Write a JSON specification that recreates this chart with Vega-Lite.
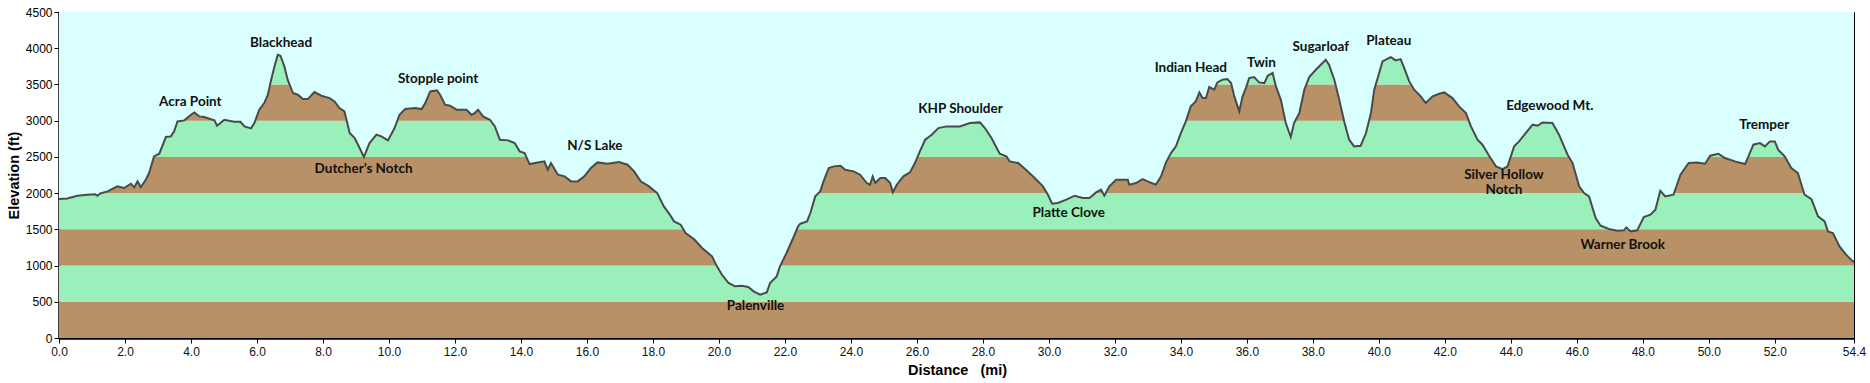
{
  "$schema": "https://vega.github.io/schema/vega-lite/v6.json",
  "width": 1795,
  "height": 326,
  "autosize": "none",
  "padding": {"left": 59, "top": 12, "right": 16, "bottom": 45},
  "background": "white",
  "config": {
    "view": {"stroke": "#000", "strokeWidth": 1, "fill": "#DAFFFF"}
  },
  "datasets": {
    "bands": [
      {"lo": 0, "hi": 500, "c": "#B89266"},
      {"lo": 500, "hi": 1000, "c": "#99F0BB"},
      {"lo": 1000, "hi": 1500, "c": "#B89266"},
      {"lo": 1500, "hi": 2000, "c": "#99F0BB"},
      {"lo": 2000, "hi": 2500, "c": "#B89266"},
      {"lo": 2500, "hi": 3000, "c": "#99F0BB"},
      {"lo": 3000, "hi": 3500, "c": "#B89266"},
      {"lo": 3500, "hi": 4000, "c": "#99F0BB"},
      {"lo": 4000, "hi": 4500, "c": "#B89266"}
    ],
    "profile": [
      {"mi":0,"ft":1918},{"mi":0.25,"ft":1927},{"mi":0.56,"ft":1964},{"mi":0.86,"ft":1978},{"mi":1.1,"ft":1985},{"mi":1.16,"ft":1964},{"mi":1.25,"ft":1995},{"mi":1.47,"ft":2024},{"mi":1.77,"ft":2093},{"mi":1.97,"ft":2070},{"mi":2.18,"ft":2130},{"mi":2.28,"ft":2079},{"mi":2.38,"ft":2162},{"mi":2.48,"ft":2084},{"mi":2.63,"ft":2185},{"mi":2.73,"ft":2277},{"mi":2.88,"ft":2507},{"mi":3.04,"ft":2544},{"mi":3.24,"ft":2774},{"mi":3.39,"ft":2783},{"mi":3.49,"ft":2852},{"mi":3.59,"ft":2990},{"mi":3.8,"ft":3004},{"mi":4.0,"ft":3082},{"mi":4.1,"ft":3114},{"mi":4.25,"ft":3059},{"mi":4.4,"ft":3050},{"mi":4.71,"ft":3004},{"mi":4.79,"ft":2930},{"mi":5.01,"ft":3013},{"mi":5.31,"ft":2985},{"mi":5.5,"ft":2985},{"mi":5.62,"ft":2921},{"mi":5.82,"ft":2893},{"mi":5.92,"ft":2967},{"mi":6.07,"ft":3151},{"mi":6.22,"ft":3243},{"mi":6.33,"ft":3358},{"mi":6.43,"ft":3565},{"mi":6.53,"ft":3749},{"mi":6.63,"ft":3910},{"mi":6.71,"ft":3896},{"mi":6.83,"ft":3749},{"mi":6.93,"ft":3565},{"mi":7.09,"ft":3381},{"mi":7.24,"ft":3358},{"mi":7.39,"ft":3298},{"mi":7.54,"ft":3298},{"mi":7.74,"ft":3395},{"mi":7.95,"ft":3344},{"mi":8.2,"ft":3312},{"mi":8.35,"ft":3266},{"mi":8.5,"ft":3174},{"mi":8.65,"ft":3128},{"mi":8.81,"ft":2829},{"mi":8.96,"ft":2760},{"mi":9.11,"ft":2622},{"mi":9.24,"ft":2498},{"mi":9.41,"ft":2691},{"mi":9.62,"ft":2806},{"mi":9.77,"ft":2783},{"mi":9.97,"ft":2728},{"mi":10.17,"ft":2898},{"mi":10.32,"ft":3082},
      {"mi":10.49,"ft":3160},{"mi":10.79,"ft":3174},{"mi":10.99,"ft":3160},{"mi":11.1,"ft":3243},{"mi":11.25,"ft":3404},{"mi":11.45,"ft":3418},{"mi":11.55,"ft":3358},{"mi":11.7,"ft":3220},{"mi":11.85,"ft":3206},{"mi":12.05,"ft":3151},{"mi":12.35,"ft":3151},{"mi":12.5,"ft":3082},{"mi":12.6,"ft":3105},{"mi":12.7,"ft":3151},{"mi":12.85,"ft":3059},{"mi":13.06,"ft":3013},{"mi":13.21,"ft":2921},{"mi":13.36,"ft":2737},{"mi":13.61,"ft":2728},{"mi":13.81,"ft":2691},{"mi":13.96,"ft":2576},{"mi":14.11,"ft":2553},{"mi":14.26,"ft":2401},{"mi":14.51,"ft":2424},{"mi":14.71,"ft":2438},{"mi":14.81,"ft":2323},{"mi":14.91,"ft":2415},{"mi":15.12,"ft":2254},{"mi":15.32,"ft":2231},{"mi":15.52,"ft":2162},{"mi":15.72,"ft":2162},{"mi":15.92,"ft":2231},{"mi":16.12,"ft":2346},{"mi":16.32,"ft":2424},{"mi":16.62,"ft":2406},{"mi":16.97,"ft":2429},{"mi":17.23,"ft":2392},{"mi":17.43,"ft":2300},{"mi":17.63,"ft":2162},{"mi":17.88,"ft":2093},{"mi":18.13,"ft":2001},{"mi":18.33,"ft":1817},{"mi":18.48,"ft":1725},{"mi":18.64,"ft":1610},{"mi":18.84,"ft":1564},{"mi":18.99,"ft":1449},{"mi":19.24,"ft":1366},{"mi":19.49,"ft":1242},{"mi":19.79,"ft":1127},{"mi":19.94,"ft":989},{"mi":20.09,"ft":874},{"mi":20.29,"ft":759},{"mi":20.49,"ft":713},{"mi":20.69,"ft":722},{"mi":20.89,"ft":704},{"mi":21.05,"ft":644},{"mi":21.25,"ft":598},{"mi":21.45,"ft":630},{"mi":21.55,"ft":759},{"mi":21.75,"ft":851},{"mi":21.85,"ft":989},{"mi":22.05,"ft":1173},{"mi":22.25,"ft":1380},{"mi":22.4,"ft":1541},
      {"mi":22.47,"ft":1578},{"mi":22.67,"ft":1610},{"mi":22.77,"ft":1725},{"mi":22.92,"ft":1955},{"mi":23.07,"ft":2024},{"mi":23.17,"ft":2162},{"mi":23.33,"ft":2346},{"mi":23.48,"ft":2369},{"mi":23.68,"ft":2378},{"mi":23.83,"ft":2323},{"mi":24.08,"ft":2300},{"mi":24.28,"ft":2254},{"mi":24.48,"ft":2139},{"mi":24.58,"ft":2116},{"mi":24.66,"ft":2231},{"mi":24.74,"ft":2139},{"mi":24.89,"ft":2208},{"mi":25.04,"ft":2208},{"mi":25.19,"ft":2139},{"mi":25.27,"ft":2010},{"mi":25.39,"ft":2116},{"mi":25.59,"ft":2231},{"mi":25.79,"ft":2286},{"mi":25.94,"ft":2415},{"mi":26.09,"ft":2576},{"mi":26.25,"ft":2737},{"mi":26.45,"ft":2806},{"mi":26.65,"ft":2898},{"mi":26.9,"ft":2921},{"mi":27.3,"ft":2921},{"mi":27.61,"ft":2967},{"mi":27.91,"ft":2976},{"mi":28.06,"ft":2898},{"mi":28.26,"ft":2760},{"mi":28.51,"ft":2544},{"mi":28.71,"ft":2507},{"mi":28.81,"ft":2438},{"mi":29.07,"ft":2415},{"mi":29.32,"ft":2314},{"mi":29.57,"ft":2208},{"mi":29.82,"ft":2093},{"mi":29.97,"ft":1978},{"mi":30.1,"ft":1854},{"mi":30.27,"ft":1863},{"mi":30.53,"ft":1909},{"mi":30.78,"ft":1964},{"mi":31.03,"ft":1932},{"mi":31.23,"ft":1932},{"mi":31.43,"ft":2010},{"mi":31.58,"ft":2047},{"mi":31.68,"ft":1964},{"mi":31.83,"ft":2093},{"mi":32.04,"ft":2185},{"mi":32.39,"ft":2185},{"mi":32.44,"ft":2116},{"mi":32.64,"ft":2139},{"mi":32.84,"ft":2194},{"mi":32.99,"ft":2162},{"mi":33.24,"ft":2116},{"mi":33.4,"ft":2231},{"mi":33.55,"ft":2424},{"mi":33.7,"ft":2553},{"mi":33.85,"ft":2645},{"mi":34.0,"ft":2829},{"mi":34.15,"ft":2990},{"mi":34.3,"ft":3197},{"mi":34.45,"ft":3266},{"mi":34.56,"ft":3390},
      {"mi":34.66,"ft":3312},{"mi":34.76,"ft":3312},{"mi":34.86,"ft":3464},{"mi":35.01,"ft":3427},{"mi":35.11,"ft":3528},{"mi":35.26,"ft":3565},{"mi":35.41,"ft":3574},{"mi":35.52,"ft":3519},{"mi":35.62,"ft":3335},{"mi":35.77,"ft":3128},{"mi":35.87,"ft":3335},{"mi":35.97,"ft":3450},{"mi":36.07,"ft":3588},{"mi":36.22,"ft":3602},{"mi":36.37,"ft":3528},{"mi":36.53,"ft":3519},{"mi":36.63,"ft":3620},{"mi":36.78,"ft":3657},{"mi":36.88,"ft":3473},{"mi":37.03,"ft":3289},{"mi":37.18,"ft":2967},{"mi":37.33,"ft":2774},{"mi":37.43,"ft":2967},{"mi":37.59,"ft":3105},{"mi":37.74,"ft":3427},{"mi":37.89,"ft":3602},{"mi":38.09,"ft":3703},{"mi":38.24,"ft":3772},{"mi":38.39,"ft":3841},{"mi":38.49,"ft":3772},{"mi":38.65,"ft":3565},{"mi":38.8,"ft":3289},{"mi":38.95,"ft":2990},{"mi":39.1,"ft":2737},{"mi":39.25,"ft":2645},{"mi":39.45,"ft":2654},{"mi":39.61,"ft":2829},{"mi":39.76,"ft":3105},{"mi":39.86,"ft":3427},{"mi":40.01,"ft":3657},{"mi":40.11,"ft":3818},{"mi":40.36,"ft":3878},{"mi":40.51,"ft":3832},{"mi":40.66,"ft":3850},{"mi":40.77,"ft":3726},{"mi":40.92,"ft":3542},{"mi":41.07,"ft":3427},{"mi":41.27,"ft":3335},{"mi":41.42,"ft":3243},{"mi":41.63,"ft":3335},{"mi":41.83,"ft":3372},{"mi":41.98,"ft":3390},{"mi":42.23,"ft":3312},{"mi":42.43,"ft":3197},{"mi":42.64,"ft":3105},{"mi":42.79,"ft":2921},{"mi":42.99,"ft":2737},{"mi":43.14,"ft":2668},{"mi":43.34,"ft":2516},{"mi":43.55,"ft":2369},{"mi":43.75,"ft":2332},{"mi":43.9,"ft":2369},{"mi":44.1,"ft":2645},{"mi":44.25,"ft":2714},{"mi":44.45,"ft":2829},{"mi":44.66,"ft":2944},{"mi":44.81,"ft":2930},{"mi":44.96,"ft":2976},{"mi":45.26,"ft":2967},
      {"mi":45.46,"ft":2806},{"mi":45.72,"ft":2530},{"mi":45.87,"ft":2415},{"mi":46.07,"ft":2093},{"mi":46.22,"ft":2001},{"mi":46.37,"ft":1955},{"mi":46.57,"ft":1656},{"mi":46.72,"ft":1550},{"mi":46.97,"ft":1504},{"mi":47.23,"ft":1481},{"mi":47.43,"ft":1486},{"mi":47.5,"ft":1527},{"mi":47.63,"ft":1472},{"mi":47.83,"ft":1486},{"mi":48.03,"ft":1670},{"mi":48.23,"ft":1702},{"mi":48.38,"ft":1771},{"mi":48.53,"ft":2033},{"mi":48.68,"ft":1955},{"mi":48.93,"ft":1978},{"mi":49.14,"ft":2254},{"mi":49.39,"ft":2415},{"mi":49.64,"ft":2424},{"mi":49.89,"ft":2406},{"mi":50.04,"ft":2516},{"mi":50.29,"ft":2544},{"mi":50.49,"ft":2484},{"mi":50.79,"ft":2438},{"mi":51.1,"ft":2401},{"mi":51.2,"ft":2507},{"mi":51.35,"ft":2668},{"mi":51.55,"ft":2691},{"mi":51.7,"ft":2645},{"mi":51.85,"ft":2714},{"mi":52.0,"ft":2714},{"mi":52.1,"ft":2599},{"mi":52.3,"ft":2507},{"mi":52.5,"ft":2346},{"mi":52.7,"ft":2277},{"mi":52.9,"ft":1978},{"mi":53.11,"ft":1918},{"mi":53.31,"ft":1679},{"mi":53.51,"ft":1610},{"mi":53.61,"ft":1472},{"mi":53.76,"ft":1449},{"mi":53.96,"ft":1265},{"mi":54.16,"ft":1150},{"mi":54.36,"ft":1058},{"mi":54.4,"ft":1058}
    ],
    "labels": [
      {"mi": 3.98, "ft": 3257, "name": "Acra Point"},
      {"mi": 6.73, "ft": 4071, "name": "Blackhead"},
      {"mi": 9.23, "ft": 2332, "name": "Dutcher’s Notch"},
      {"mi": 11.49, "ft": 3579, "name": "Stopple point"},
      {"mi": 16.24, "ft": 2645, "name": "N/S Lake"},
      {"mi": 21.11, "ft": 437, "name": "Palenville"},
      {"mi": 27.32, "ft": 3160, "name": "KHP Shoulder"},
      {"mi": 30.6, "ft": 1725, "name": "Platte Clove"},
      {"mi": 34.3, "ft": 3721, "name": "Indian Head"},
      {"mi": 36.44, "ft": 3795, "name": "Twin"},
      {"mi": 38.24, "ft": 4011, "name": "Sugarloaf"},
      {"mi": 40.3, "ft": 4094, "name": "Plateau"},
      {"mi": 45.18, "ft": 3197, "name": "Edgewood Mt."},
      {"mi": 43.79, "ft": 2245, "name": "Silver Hollow"},
      {"mi": 43.79, "ft": 2038, "name": "Notch"},
      {"mi": 47.39, "ft": 1279, "name": "Warner Brook"},
      {"mi": 51.68, "ft": 2935, "name": "Tremper"}
    ]
  },
  "layer": [
    {
      "data": {"name": "bands"},
      "mark": {"type": "rect"},
      "encoding": {
        "x": {"datum": 0, "type": "quantitative", "scale": {"domain": [0, 54.4], "nice": false, "zero": false}, "title": "Distance\u00a0\u00a0\u00a0(mi)",
          "axis": {"values": [0, 2, 4, 6, 8, 10, 12, 14, 16, 18, 20, 22, 24, 26, 28, 30, 32, 34, 36, 38, 40, 42, 44, 46, 48, 50, 52, 54.4], "format": ".1f", "grid": false,
            "titleFont": "Liberation Sans", "titleFontSize": 14.5, "titleFontWeight": "bold", "titleColor": "#000",
            "titleX": 898, "titleY": 32, "titleAlign": "center", "titleBaseline": "middle",
            "labelFont": "Liberation Sans", "labelFontSize": 12, "labelColor": "#111", "labelPadding": 3,
            "labelFlush": false, "labelOverlap": false,
            "tickSize": 5, "tickColor": "#000", "tickWidth": 1,
            "domainColor": "#000", "domainWidth": 2.5}},
        "x2": {"datum": 54.4},
        "y": {"field": "lo", "type": "quantitative", "scale": {"domain": [0, 4500], "nice": false}, "title": "Elevation (ft)",
          "axis": {"values": [0, 500, 1000, 1500, 2000, 2500, 3000, 3500, 4000, 4500], "format": "d", "grid": false,
            "titleFont": "Liberation Sans", "titleFontSize": 14.5, "titleFontWeight": "bold", "titleColor": "#000",
            "titleX": -45, "titleY": 163, "titleAngle": -90, "titleAlign": "center", "titleBaseline": "middle",
            "labelFont": "Liberation Sans", "labelFontSize": 12, "labelColor": "#000", "labelPadding": 2,
            "tickSize": 5, "tickColor": "#000", "tickWidth": 1,
            "domainColor": "#000", "domainWidth": 2.5, "labelOverlap": false}},
        "y2": {"field": "hi"},
        "color": {"field": "c", "type": "nominal", "scale": null}
      }
    },
    {
      "data": {"name": "profile"},
      "mark": {"type": "area", "color": "#DAFFFF", "opacity": 1},
      "encoding": {
        "x": {"field": "mi", "type": "quantitative", "title": "Distance\u00a0\u00a0\u00a0(mi)",
          "axis": {"values": [0, 2, 4, 6, 8, 10, 12, 14, 16, 18, 20, 22, 24, 26, 28, 30, 32, 34, 36, 38, 40, 42, 44, 46, 48, 50, 52, 54.4], "format": ".1f", "grid": false,
            "titleFont": "Liberation Sans", "titleFontSize": 14.5, "titleFontWeight": "bold", "titleColor": "#000",
            "titleX": 898, "titleY": 32, "titleAlign": "center", "titleBaseline": "middle",
            "labelFont": "Liberation Sans", "labelFontSize": 12, "labelColor": "#111", "labelPadding": 3,
            "labelFlush": false, "labelOverlap": false,
            "tickSize": 5, "tickColor": "#000", "tickWidth": 1,
            "domainColor": "#000", "domainWidth": 2.5}},
        "y": {"field": "ft", "type": "quantitative", "title": "Elevation (ft)",
          "axis": {"values": [0, 500, 1000, 1500, 2000, 2500, 3000, 3500, 4000, 4500], "format": "d", "grid": false,
            "titleFont": "Liberation Sans", "titleFontSize": 14.5, "titleFontWeight": "bold", "titleColor": "#000",
            "titleX": -45, "titleY": 163, "titleAngle": -90, "titleAlign": "center", "titleBaseline": "middle",
            "labelFont": "Liberation Sans", "labelFontSize": 12, "labelColor": "#000", "labelPadding": 2,
            "tickSize": 5, "tickColor": "#000", "tickWidth": 1,
            "domainColor": "#000", "domainWidth": 2.5, "labelOverlap": false}},
        "y2": {"datum": 4500}
      }
    },
    {
      "data": {"name": "profile"},
      "mark": {"type": "line", "color": "#4A4A4A", "strokeWidth": 2},
      "encoding": {
        "x": {"field": "mi", "type": "quantitative", "title": "Distance\u00a0\u00a0\u00a0(mi)",
          "axis": {"values": [0, 2, 4, 6, 8, 10, 12, 14, 16, 18, 20, 22, 24, 26, 28, 30, 32, 34, 36, 38, 40, 42, 44, 46, 48, 50, 52, 54.4], "format": ".1f", "grid": false,
            "titleFont": "Liberation Sans", "titleFontSize": 14.5, "titleFontWeight": "bold", "titleColor": "#000",
            "titleX": 898, "titleY": 32, "titleAlign": "center", "titleBaseline": "middle",
            "labelFont": "Liberation Sans", "labelFontSize": 12, "labelColor": "#111", "labelPadding": 3,
            "labelFlush": false, "labelOverlap": false,
            "tickSize": 5, "tickColor": "#000", "tickWidth": 1,
            "domainColor": "#000", "domainWidth": 2.5}},
        "y": {"field": "ft", "type": "quantitative", "title": "Elevation (ft)",
          "axis": {"values": [0, 500, 1000, 1500, 2000, 2500, 3000, 3500, 4000, 4500], "format": "d", "grid": false,
            "titleFont": "Liberation Sans", "titleFontSize": 14.5, "titleFontWeight": "bold", "titleColor": "#000",
            "titleX": -45, "titleY": 163, "titleAngle": -90, "titleAlign": "center", "titleBaseline": "middle",
            "labelFont": "Liberation Sans", "labelFontSize": 12, "labelColor": "#000", "labelPadding": 2,
            "tickSize": 5, "tickColor": "#000", "tickWidth": 1,
            "domainColor": "#000", "domainWidth": 2.5, "labelOverlap": false}}
      }
    },
    {
      "data": {"name": "labels"},
      "mark": {"type": "text", "font": "Lato", "fontWeight": "bold", "fontSize": 13.5, "color": "#111", "align": "center", "baseline": "middle"},
      "encoding": {
        "x": {"field": "mi", "type": "quantitative", "title": "Distance\u00a0\u00a0\u00a0(mi)",
          "axis": {"values": [0, 2, 4, 6, 8, 10, 12, 14, 16, 18, 20, 22, 24, 26, 28, 30, 32, 34, 36, 38, 40, 42, 44, 46, 48, 50, 52, 54.4], "format": ".1f", "grid": false,
            "titleFont": "Liberation Sans", "titleFontSize": 14.5, "titleFontWeight": "bold", "titleColor": "#000",
            "titleX": 898, "titleY": 32, "titleAlign": "center", "titleBaseline": "middle",
            "labelFont": "Liberation Sans", "labelFontSize": 12, "labelColor": "#111", "labelPadding": 3,
            "labelFlush": false, "labelOverlap": false,
            "tickSize": 5, "tickColor": "#000", "tickWidth": 1,
            "domainColor": "#000", "domainWidth": 2.5}},
        "y": {"field": "ft", "type": "quantitative", "title": "Elevation (ft)",
          "axis": {"values": [0, 500, 1000, 1500, 2000, 2500, 3000, 3500, 4000, 4500], "format": "d", "grid": false,
            "titleFont": "Liberation Sans", "titleFontSize": 14.5, "titleFontWeight": "bold", "titleColor": "#000",
            "titleX": -45, "titleY": 163, "titleAngle": -90, "titleAlign": "center", "titleBaseline": "middle",
            "labelFont": "Liberation Sans", "labelFontSize": 12, "labelColor": "#000", "labelPadding": 2,
            "tickSize": 5, "tickColor": "#000", "tickWidth": 1,
            "domainColor": "#000", "domainWidth": 2.5, "labelOverlap": false}},
        "text": {"field": "name"}
      }
    }
  ]
}
